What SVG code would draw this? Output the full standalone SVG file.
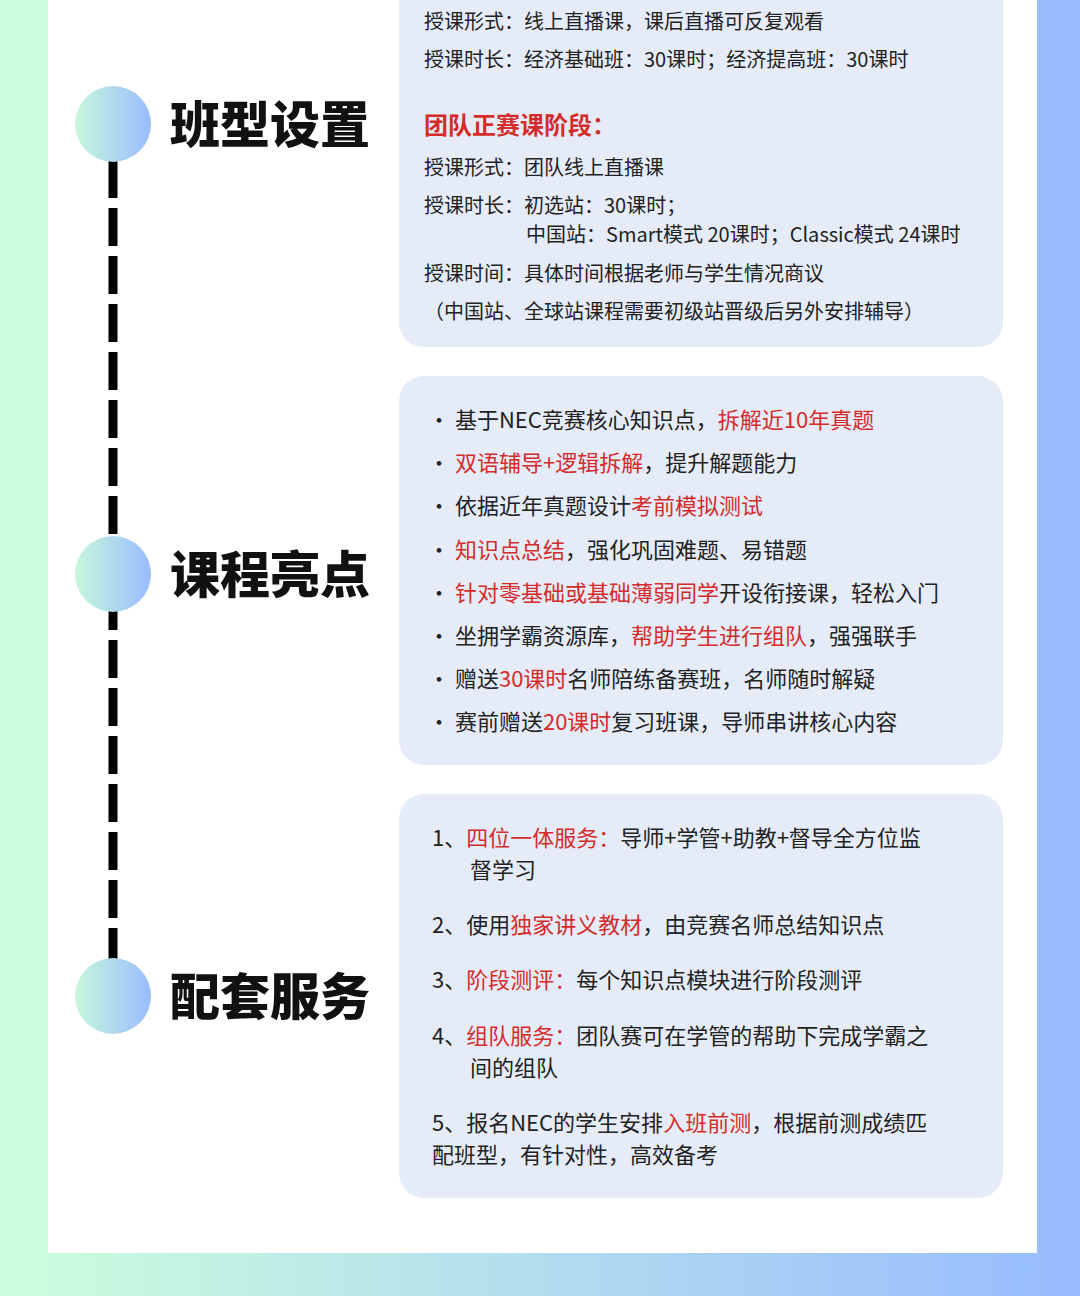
<svg xmlns="http://www.w3.org/2000/svg" width="1080" height="1296" viewBox="0 0 1080 1296">
<defs>
<linearGradient id="bg" x1="0" y1="0" x2="1" y2="0"><stop offset="0" stop-color="#CCFFDD"/><stop offset="1" stop-color="#97BBFF"/></linearGradient>
<linearGradient id="cg" x1="0" y1="0" x2="1" y2="0"><stop offset="0" stop-color="#C8F7DB"/><stop offset="1" stop-color="#98BCFF"/></linearGradient>
<style>
.t{font-family:"Noto Sans CJK SC","Noto Sans",sans-serif;font-size:20px;fill:#222}
.b{font-family:"Noto Sans CJK SC","Noto Sans",sans-serif;font-size:22px;fill:#222}
.r{fill:#D42B2B}
.h{font-family:"Noto Sans CJK SC",sans-serif;font-size:50px;font-weight:900;fill:#111}
.box{fill:#E5ECF8}
</style>
</defs>
<rect width="1080" height="1296" fill="url(#bg)"/>
<rect x="48" y="0" width="989" height="1253" fill="#fff"/>
<g id="connectors"><line x1="113" y1="160" x2="113" y2="1032" stroke="#000" stroke-width="9" stroke-dasharray="38 10"/></g>
<g id="n1"><circle cx="113" cy="124" r="38" fill="url(#cg)"/><text class="h" x="170" y="143">班型设置</text></g>
<g id="n2"><circle cx="113" cy="574" r="38" fill="url(#cg)"/><text class="h" x="170" y="593">课程亮点</text></g>
<g id="n3"><circle cx="113" cy="996" r="38" fill="url(#cg)"/><text class="h" x="170" y="1015">配套服务</text></g>
<g id="box1">
<rect class="box" x="399" y="-30" width="604" height="377" rx="25"/>
<text class="t" x="424" y="29">授课形式：线上直播课，课后直播可反复观看</text>
<text class="t" x="424" y="67">授课时长：经济基础班：30课时；经济提高班：30课时</text>
<text x="424" y="134" style="font-family:'Noto Sans CJK SC',sans-serif;font-size:24px;font-weight:bold;fill:#D42B2B">团队正赛课阶段：</text>
<text class="t" x="424" y="175">授课形式：团队线上直播课</text>
<text class="t" x="424" y="213">授课时长：初选站：30课时；</text>
<text class="t" x="526" y="242">中国站：Smart模式 20课时；Classic模式 24课时</text>
<text class="t" x="424" y="281">授课时间：具体时间根据老师与学生情况商议</text>
<text class="t" x="424" y="319">（中国站、全球站课程需要初级站晋级后另外安排辅导）</text>
</g>
<g id="box2">
<rect class="box" x="399" y="376" width="604" height="389" rx="25"/>
<text class="b" x="428" y="428">· 基于NEC竞赛核心知识点，<tspan class="r">拆解近10年真题</tspan></text>
<text class="b" x="428" y="471">· <tspan class="r">双语辅导+逻辑拆解</tspan>，提升解题能力</text>
<text class="b" x="428" y="514">· 依据近年真题设计<tspan class="r">考前模拟测试</tspan></text>
<text class="b" x="428" y="558">· <tspan class="r">知识点总结</tspan>，强化巩固难题、易错题</text>
<text class="b" x="428" y="601">· <tspan class="r">针对零基础或基础薄弱同学</tspan>开设衔接课，轻松入门</text>
<text class="b" x="428" y="644">· 坐拥学霸资源库，<tspan class="r">帮助学生进行组队</tspan>，强强联手</text>
<text class="b" x="428" y="687">· 赠送<tspan class="r">30课时</tspan>名师陪练备赛班，名师随时解疑</text>
<text class="b" x="428" y="730">· 赛前赠送<tspan class="r">20课时</tspan>复习班课，导师串讲核心内容</text>
</g>
<g id="box3">
<rect class="box" x="399" y="794" width="604" height="404" rx="25"/>
<text class="b" x="432" y="846">1、<tspan class="r">四位一体服务：</tspan>导师+学管+助教+督导全方位监</text>
<text class="b" x="470" y="878">督学习</text>
<text class="b" x="432" y="933">2、使用<tspan class="r">独家讲义教材</tspan>，由竞赛名师总结知识点</text>
<text class="b" x="432" y="988">3、<tspan class="r">阶段测评：</tspan>每个知识点模块进行阶段测评</text>
<text class="b" x="432" y="1044">4、<tspan class="r">组队服务：</tspan>团队赛可在学管的帮助下完成学霸之</text>
<text class="b" x="470" y="1076">间的组队</text>
<text class="b" x="432" y="1131">5、报名NEC的学生安排<tspan class="r">入班前测</tspan>，根据前测成绩匹</text>
<text class="b" x="432" y="1163">配班型，有针对性，高效备考</text>
</g>
</svg>
